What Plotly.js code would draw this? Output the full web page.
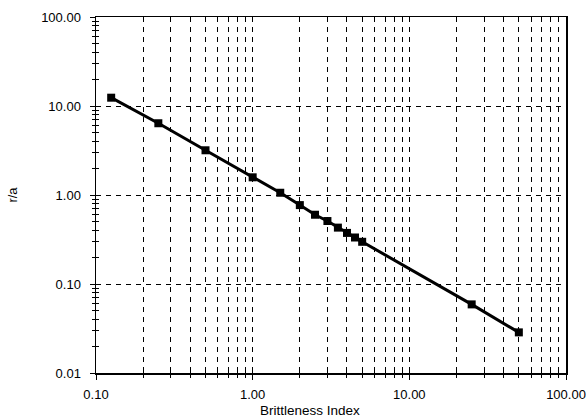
<!DOCTYPE html>
<html>
<head>
<meta charset="utf-8">
<script src="https://cdn.plot.ly/plotly-3.0.1.min.js"></script>
<style>html,body{margin:0;padding:0;background:#fff;}#chart{width:586px;height:419px;}</style>
</head>
<body>
<div id="chart"></div>
<script>
const brittleness = [0.125, 0.25, 0.5, 1.0, 1.5, 2.0, 2.5, 3.0, 3.5, 4.0, 4.5, 5.0, 25, 50];
const rOverA = [12.4, 6.4, 3.18, 1.58, 1.06, 0.77, 0.60, 0.51, 0.43, 0.375, 0.333, 0.298, 0.059, 0.0286];
const xTickVals = [0.1, 1, 10, 100];
const xTickText = ['0.10', '1.00', '10.00', '100.00'];
const yTickVals = [0.01, 0.1, 1, 10, 100];
const yTickText = ['0.01', '0.10', '1.00', '10.00', '100.00'];
const xTitle = 'Brittleness Index';
const yTitle = 'r/a';

const font = {family: 'Liberation Sans, Arial, sans-serif', size: 13, color: '#000'};
const titleFont = {family: 'Liberation Sans Narrow, Arial Narrow, Liberation Sans, sans-serif', size: 13.5, color: '#000'};

const traces = [
  {x: brittleness, y: rOverA, type: 'scatter', mode: 'lines+markers',
   line: {color: '#000', width: 3}, marker: {symbol: 'square', size: 8, color: '#000'},
   hoverinfo: 'skip'},
  {x: brittleness, y: rOverA, xaxis: 'x2', yaxis: 'y2', type: 'scatter', mode: 'markers',
   marker: {opacity: 0}, hoverinfo: 'skip', showlegend: false}
];

const xr = [-1, 2], yr = [-2, 2];
const dash = '5px,5px';
const layout = {
  width: 586, height: 419,
  margin: {l: 96, r: 20, t: 17, b: 46},
  paper_bgcolor: '#fff', plot_bgcolor: '#fff',
  showlegend: false,
  font: font,
  xaxis: {
    type: 'log', range: xr, tickmode: 'array', tickvals: xTickVals, ticktext: xTickText,
    ticks: 'outside', ticklen: 5, tickcolor: '#000', tickwidth: 1,
    showline: true, linecolor: '#000', linewidth: 1.5, mirror: true,
    showgrid: true, gridcolor: '#000', gridwidth: 1, griddash: dash,
    zeroline: false, ticklabelstandoff: 4,
    minor: {dtick: 'D1', ticks: 'outside', ticklen: 3, tickcolor: '#000', showgrid: true,
            gridcolor: '#000', gridwidth: 1, griddash: dash},
    tickfont: font
  },
  yaxis: {
    type: 'log', range: yr, tickmode: 'array', tickvals: yTickVals, ticktext: yTickText,
    ticks: 'outside', ticklen: 5, tickcolor: '#000', tickwidth: 1,
    showline: true, linecolor: '#000', linewidth: 1.5, mirror: true,
    showgrid: true, gridcolor: '#000', gridwidth: 1, griddash: dash,
    zeroline: false, ticklabelstandoff: 6,
    minor: {dtick: 'D1', ticks: 'outside', ticklen: 3, tickcolor: '#000', showgrid: false},
    title: {text: yTitle, font: font, standoff: 20},
    tickfont: font
  },
  xaxis2: {
    type: 'log', range: xr, overlaying: 'x', side: 'bottom', anchor: 'y2',
    tickmode: 'array', tickvals: xTickVals, ticks: 'inside', ticklen: 5, tickcolor: '#000',
    showticklabels: false, showgrid: false, showline: false, zeroline: false,
    minor: {dtick: 'D1', ticks: 'inside', ticklen: 3, tickcolor: '#000', showgrid: false}
  },
  yaxis2: {
    type: 'log', range: yr, overlaying: 'y', side: 'left', anchor: 'x2',
    tickmode: 'array', tickvals: yTickVals, ticks: 'inside', ticklen: 5, tickcolor: '#000',
    showticklabels: false, showgrid: false, showline: false, zeroline: false,
    minor: {dtick: 'D1', ticks: 'inside', ticklen: 3, tickcolor: '#000', showgrid: false}
  },
  annotations: [
    {text: xTitle, xref: 'paper', yref: 'paper', x: 0.455, y: -0.104,
     xanchor: 'center', yanchor: 'middle', showarrow: false, font: titleFont}
  ]
};

Plotly.newPlot('chart', traces, layout, {staticPlot: true, displayModeBar: false});
</script>
</body>
</html>
